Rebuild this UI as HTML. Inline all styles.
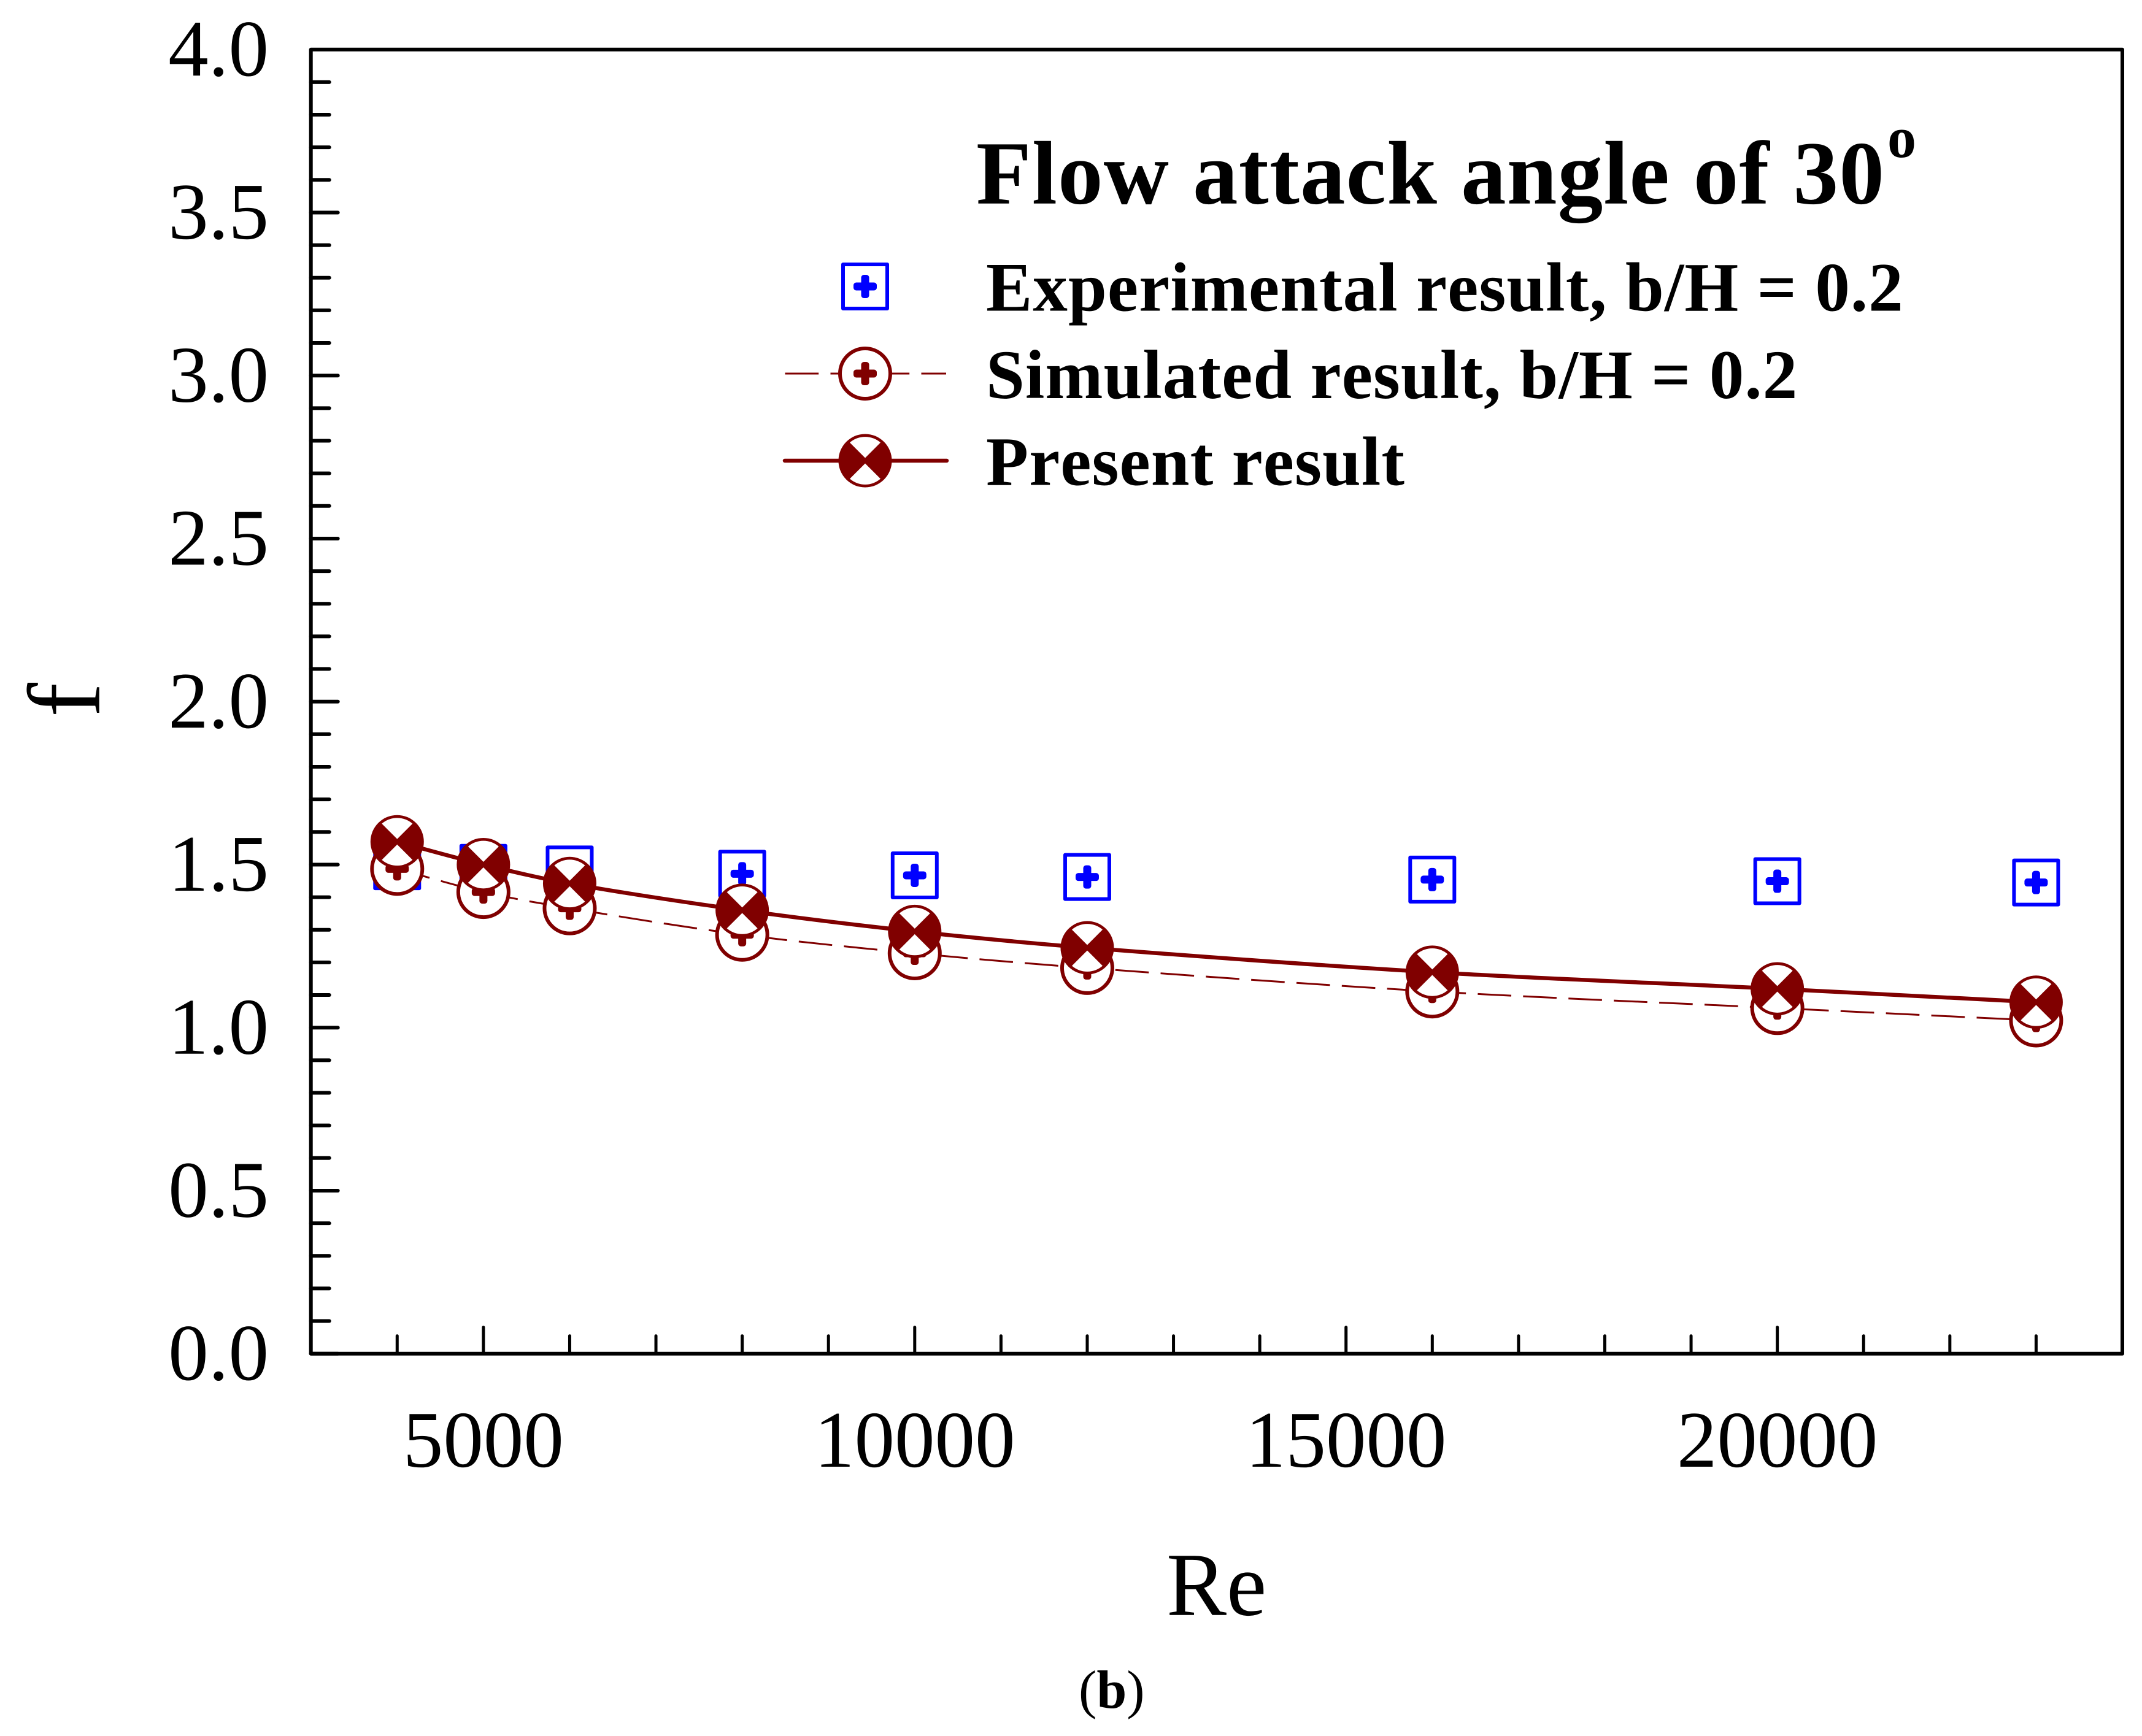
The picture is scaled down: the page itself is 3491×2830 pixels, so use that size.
<!DOCTYPE html>
<html lang="en">
<head>
<meta charset="utf-8">
<title>Flow attack angle of 30 degrees</title>
<style>
html,body{margin:0;padding:0;background:#fff;width:3491px;height:2830px;overflow:hidden}
svg{display:block}
text{font-family:"Liberation Serif","Times New Roman",serif;fill:#000;font-kerning:none}
.tick-label{font-size:131px}
.bold{font-weight:bold}
</style>
</head>
<body>
<svg id="chart" xmlns="http://www.w3.org/2000/svg" width="3491" height="2830" viewBox="0 0 3491 2830">
  <rect x="0" y="0" width="3491" height="2830" fill="#ffffff"/>
  <g id="ticks"></g>
  <g id="labels"></g>
  <g id="series"></g>
  <rect x="506.7" y="80.7" width="2952.3" height="2126" fill="none" stroke="#000" stroke-width="6" stroke-linejoin="round"/>

  <text x="1591" y="331.7" class="bold" font-size="147" letter-spacing="1.2">Flow attack angle of 30</text>
  <text x="3076" y="256" class="bold" font-size="94">o</text>

  <g id="legend">
    <text x="1607" y="506.5" class="bold" font-size="113" letter-spacing="1.05">Experimental result, b/H = 0.2</text>
    <text x="1607" y="649" class="bold" font-size="113" letter-spacing="1.05">Simulated result, b/H = 0.2</text>
    <text x="1607" y="790.5" class="bold" font-size="113" letter-spacing="1.05">Present result</text>
  </g>

  <text x="1901" y="2632.7" font-size="147">Re</text>
  <text transform="translate(161.7 1169) rotate(-90)" x="0" y="0" font-size="168">f</text>
  <text x="1758" y="2784" font-size="88">(<tspan class="bold">b</tspan>)</text>
</svg>

<script>
const reynolds = [4000, 5000, 6000, 8000, 10000, 12000, 16000, 20000, 23000];
const experimental = [1.495, 1.49, 1.485, 1.472, 1.467, 1.462, 1.454, 1.449, 1.445];
const simulated = [1.487, 1.416, 1.366, 1.285, 1.228, 1.183, 1.111, 1.06, 1.022];
const present = [1.57, 1.5, 1.442, 1.36, 1.295, 1.245, 1.17, 1.119, 1.078];
const xTickValues = [4000, 5000, 6000, 7000, 8000, 9000, 10000, 11000, 12000, 13000, 14000, 15000, 16000, 17000, 18000, 19000, 20000, 21000, 22000, 23000];
const xTickLabels = ["5000", "10000", "15000", "20000"];
const yTickValues = [0, 0.1, 0.2, 0.3, 0.4, 0.5, 0.6, 0.7, 0.8, 0.9, 1, 1.1, 1.2, 1.3, 1.4, 1.5, 1.6, 1.7, 1.8, 1.9, 2, 2.1, 2.2, 2.3, 2.4, 2.5, 2.6, 2.7, 2.8, 2.9, 3, 3.1, 3.2, 3.3, 3.4, 3.5, 3.6, 3.7, 3.8, 3.9];
const yTickLabels = ["0.0", "0.5", "1.0", "1.5", "2.0", "2.5", "3.0", "3.5", "4.0"];

const NS = 'http://www.w3.org/2000/svg';
const MAROON = '#800000';
const BLUE = '#0000ff';
const plot = {left: 506.7, right: 3459, top: 80.7, bottom: 2206.7, xMin: 3000, xMax: 24000, yMin: 0, yMax: 4};

function xScale(v) {
  return plot.left + (v - plot.xMin) / (plot.xMax - plot.xMin) * (plot.right - plot.left);
}
function yScale(v) {
  return plot.bottom - (v - plot.yMin) / (plot.yMax - plot.yMin) * (plot.bottom - plot.top);
}
function make(tag, attrs, parent) {
  const el = document.createElementNS(NS, tag);
  Object.keys(attrs).forEach(function (k) { el.setAttribute(k, attrs[k]); });
  parent.appendChild(el);
  return el;
}

const tickGroup = document.getElementById('ticks');
const labelGroup = document.getElementById('labels');
const seriesGroup = document.getElementById('series');
const legendGroup = document.getElementById('legend');

xTickValues.forEach(function (v) {
  const major = v % 5000 === 0;
  const x = xScale(v);
  const t = make('line', {x1: x, x2: x, y1: plot.bottom, y2: plot.bottom - (major ? 43 : 29), stroke: '#000', 'stroke-width': 5, 'stroke-linecap': 'round'}, tickGroup);
  
  
});
yTickValues.forEach(function (v) {
  const major = Math.round(v * 10) % 5 === 0;
  const y = yScale(v);
  const t = make('line', {x1: plot.left, x2: plot.left + (major ? 44 : 30), y1: y, y2: y, stroke: '#000', 'stroke-width': 6, 'stroke-linecap': 'round'}, tickGroup);
  
  
});
xTickLabels.forEach(function (s) {
  const t = make('text', {x: xScale(Number(s)), y: 2391, 'text-anchor': 'middle', 'class': 'tick-label'}, labelGroup);
  t.textContent = s;
  
  
});
yTickLabels.forEach(function (s) {
  const t = make('text', {x: 438, y: yScale(Number(s)) + 42.5, 'text-anchor': 'end', 'class': 'tick-label'}, labelGroup);
  t.textContent = s;
  
  
});

function plus(parent, x, y, color) {
  const g = make('g', {fill: color}, parent);
  
  
  make('rect', {x: x - 19, y: y - 6.5, width: 38, height: 13, rx: 4.5}, g);
  make('rect', {x: x - 6.5, y: y - 19, width: 13, height: 38, rx: 4.5}, g);
}
function squareMarker(parent, x, y) {
  const g = make('g', {}, parent);
  
  
  make('rect', {x: x - 36, y: y - 36, width: 72, height: 72, fill: '#fff', stroke: BLUE, 'stroke-width': 6, 'stroke-linejoin': 'round'}, g);
  plus(g, x, y, BLUE);
}
function circleMarker(parent, x, y) {
  const g = make('g', {}, parent);
  
  
  make('circle', {cx: x, cy: y, r: 41, fill: '#fff', stroke: MAROON, 'stroke-width': 6}, g);
  plus(g, x, y, MAROON);
}
function crossMarker(parent, x, y) {
  const g = make('g', {}, parent);
  
  
  make('circle', {cx: x, cy: y, r: 43.5, fill: MAROON}, g);
  const top = 'M' + x + ' ' + (y - 4.5) + 'L' + (x - 25) + ' ' + (y - 29.5) + 'A38 38 0 0 1 ' + (x + 25) + ' ' + (y - 29.5) + 'Z';
  const bottom = 'M' + x + ' ' + (y + 4.5) + 'L' + (x - 25) + ' ' + (y + 29.5) + 'A38 38 0 0 0 ' + (x + 25) + ' ' + (y + 29.5) + 'Z';
  make('path', {d: top + bottom, fill: '#fff'}, g);
}
function splinePath(values) {
  const px = reynolds.map(xScale);
  const py = values.map(yScale);
  const slopes = px.map(function (x, i) {
    const a = Math.max(i - 1, 0);
    const b = Math.min(i + 1, px.length - 1);
    return (py[b] - py[a]) / (px[b] - px[a]);
  });
  let d = 'M' + px[0] + ' ' + py[0];
  for (let i = 1; i < px.length; i++) {
    const dx = (px[i] - px[i - 1]) / 3;
    d += 'C' + (px[i - 1] + dx) + ' ' + (py[i - 1] + slopes[i - 1] * dx) + ' ' + (px[i] - dx) + ' ' + (py[i] - slopes[i] * dx) + ' ' + px[i] + ' ' + py[i];
  }
  return d;
}

experimental.forEach(function (v, i) {
  squareMarker(seriesGroup, xScale(reynolds[i]), yScale(v));
});

const simLine = make('path', {d: splinePath(simulated), fill: 'none', stroke: MAROON, 'stroke-width': 3, 'stroke-dasharray': '54.7 19.3'}, seriesGroup);


simulated.forEach(function (v, i) {
  circleMarker(seriesGroup, xScale(reynolds[i]), yScale(v));
});

const presentLine = make('path', {d: splinePath(present), fill: 'none', stroke: MAROON, 'stroke-width': 6.5, 'stroke-linejoin': 'round'}, seriesGroup);


present.forEach(function (v, i) {
  crossMarker(seriesGroup, xScale(reynolds[i]), yScale(v));
});

squareMarker(legendGroup, 1410, 467);
const legendDash = make('line', {x1: 1279.5, x2: 1542, y1: 609, y2: 609, stroke: MAROON, 'stroke-width': 3, 'stroke-dasharray': '54.7 19.3'}, legendGroup);


circleMarker(legendGroup, 1410, 609);
const legendSolid = make('line', {x1: 1279, x2: 1543, y1: 751, y2: 751, stroke: MAROON, 'stroke-width': 6.5, 'stroke-linecap': 'round'}, legendGroup);


crossMarker(legendGroup, 1410, 751);
</script>
</body>
</html>
